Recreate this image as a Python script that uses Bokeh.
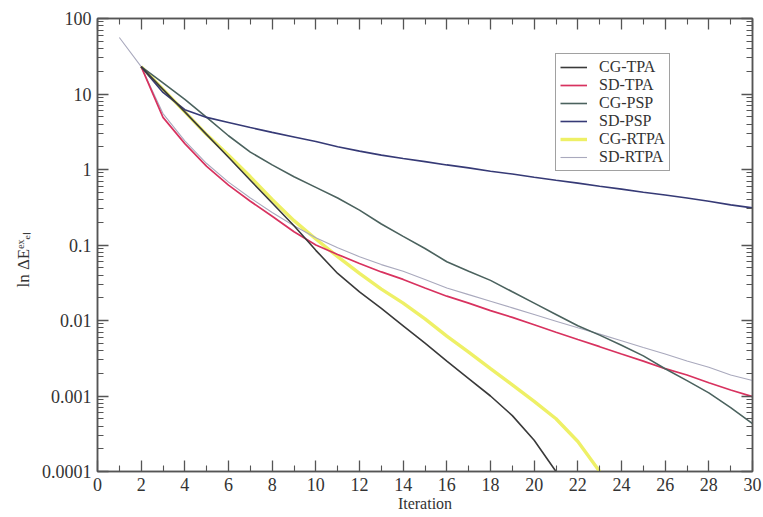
import math
from bokeh.plotting import figure
from bokeh.models import (Range1d, FixedTicker, LinearAxis, LogAxis, Legend, LegendItem,
                          CustomJSTickFormatter)
from bokeh.embed import file_html
from bokeh.resources import INLINE

# ---------------- data ----------------
it2 = list(range(2, 31))
it1 = list(range(1, 31))

cg_tpa_x = list(range(2, 22))
cg_tpa = [23, 11.5, 5.8, 2.9, 1.45, 0.72, 0.36, 0.18, 0.085, 0.042, 0.024, 0.0145, 0.0085,
          0.005, 0.0029, 0.0017, 0.001, 0.00055, 0.00026, 0.0001]

sd_tpa = [23, 4.9, 2.2, 1.1, 0.62, 0.38, 0.24, 0.15, 0.1, 0.075, 0.057, 0.044, 0.035, 0.027,
          0.021, 0.017, 0.0135, 0.011, 0.0088, 0.007, 0.0056, 0.0045, 0.0036, 0.0029, 0.0023,
          0.0019, 0.0015, 0.0012, 0.00098]

cg_psp = [23, 14, 8.5, 4.9, 2.8, 1.7, 1.15, 0.8, 0.58, 0.42, 0.29, 0.19, 0.13, 0.09, 0.06,
          0.045, 0.034, 0.024, 0.017, 0.012, 0.0085, 0.0064, 0.0047, 0.0034, 0.0023, 0.0016,
          0.0011, 0.0007, 0.00043]

sd_psp = [23, 10.5, 6.2, 4.9, 4.2, 3.6, 3.1, 2.7, 2.35, 2.0, 1.75, 1.55, 1.4, 1.27, 1.15,
          1.05, 0.95, 0.87, 0.79, 0.72, 0.66, 0.6, 0.55, 0.5, 0.46, 0.42, 0.38, 0.34, 0.31]

cg_rtpa_x = list(range(2, 24))
cg_rtpa = [23, 11.5, 5.8, 2.9, 1.55, 0.8, 0.4, 0.21, 0.12, 0.07, 0.042, 0.026, 0.017, 0.0105,
           0.0062, 0.0038, 0.0023, 0.0014, 0.00085, 0.0005, 0.00025, 0.0001]

sd_rtpa = [56, 23, 5.5, 2.4, 1.2, 0.68, 0.42, 0.27, 0.18, 0.125, 0.092, 0.07, 0.055, 0.045,
           0.035, 0.027, 0.022, 0.018, 0.0147, 0.012, 0.0098, 0.008, 0.0066, 0.0054, 0.0044,
           0.0036, 0.0029, 0.0024, 0.0019, 0.0016]

x_ticks = list(range(0, 31, 2))
x_minor = list(range(1, 30, 2))
y_ticks = [1e-4, 1e-3, 1e-2, 1e-1, 1, 10, 100]
y_minor = [m * 10.0 ** k for k in range(-4, 2) for m in range(2, 10)]

# ---------------- figure ----------------
W, H = 763, 517
L, R, T, B = 97, 11, 18, 46
SERIF = "Liberation Serif"
TXT = "#333333"
AX = "#555555"

p = figure(width=W, height=H, output_backend="svg", toolbar_location=None,
           y_axis_type="log", x_range=Range1d(0, 30), y_range=Range1d(1e-4, 100),
           min_border_left=L, min_border_right=R, min_border_top=T, min_border_bottom=B)
p.grid.visible = False
p.outline_line_color = AX
p.outline_line_width = 1.5
p.background_fill_color = "white"
p.border_fill_color = "white"

fmt = CustomJSTickFormatter(code="""
if (tick >= 1) return tick.toFixed(0);
const d = Math.round(-Math.log10(tick));
return tick.toFixed(d);
""")
blank = CustomJSTickFormatter(code="return '';")

def style_axis(ax):
    ax.axis_line_color = AX
    ax.axis_line_width = 1.5
    ax.major_tick_line_color = AX
    ax.minor_tick_line_color = AX
    ax.major_tick_line_width = 1.3
    ax.minor_tick_line_width = 1.1
    ax.major_tick_in = 11
    ax.major_tick_out = 0
    ax.minor_tick_in = 6
    ax.minor_tick_out = 0
    ax.major_label_text_font = SERIF
    ax.major_label_text_font_size = "18px"
    ax.major_label_text_color = TXT

xt = FixedTicker(ticks=x_ticks, minor_ticks=x_minor)
yt = FixedTicker(ticks=y_ticks, minor_ticks=y_minor)

xa = p.xaxis[0]
ya = p.yaxis[0]
xa.ticker = xt
ya.ticker = yt
ya.formatter = fmt
style_axis(xa)
style_axis(ya)
xa.major_label_standoff = 6
ya.major_label_standoff = 6
xa.axis_label = "Iteration"
xa.axis_label_text_font = SERIF
xa.axis_label_text_font_style = "normal"
xa.axis_label_text_font_size = "16px"
xa.axis_label_text_color = TXT
xa.axis_label_standoff = 1
ya.axis_label = "ln ΔEᵉˣₑₗ" + "\u00a0" * 7
ya.axis_label_text_font = SERIF
ya.axis_label_text_font_style = "normal"
ya.axis_label_text_font_size = "17px"
ya.axis_label_text_color = TXT
ya.axis_label_standoff = 6

top = LinearAxis(ticker=xt, formatter=blank)
style_axis(top)
top.major_label_standoff = 0
p.add_layout(top, "above")
right = LogAxis(ticker=yt, formatter=blank)
style_axis(right)
right.major_label_standoff = 0
p.add_layout(right, "right")

# ---------------- lines ----------------
r_cgr = p.line(cg_rtpa_x, cg_rtpa, line_color="#eef066", line_width=3.4)
r_sdr = p.line(it1, sd_rtpa, line_color="#a9a9bd", line_width=1.1)
r_sdt = p.line(it2, sd_tpa, line_color="#d8325f", line_width=1.7)
r_cgp = p.line(it2, cg_psp, line_color="#4b625e", line_width=1.6)
r_sdp = p.line(it2, sd_psp, line_color="#363a76", line_width=1.6)
r_cgt = p.line(cg_tpa_x, cg_tpa, line_color="#3a3a3a", line_width=1.6)

legend = Legend(items=[
    LegendItem(label="CG-TPA", renderers=[r_cgt]),
    LegendItem(label="SD-TPA", renderers=[r_sdt]),
    LegendItem(label="CG-PSP", renderers=[r_cgp]),
    LegendItem(label="SD-PSP", renderers=[r_sdp]),
    LegendItem(label="CG-RTPA", renderers=[r_cgr]),
    LegendItem(label="SD-RTPA", renderers=[r_sdr]),
], location=(458, 300))
legend.label_text_font = SERIF
legend.label_text_font_size = "16px"
legend.label_text_color = TXT
legend.label_height = 18
legend.glyph_height = 18
legend.glyph_width = 27
legend.label_standoff = 12
legend.spacing = 0
legend.padding = 4
legend.margin = 0
legend.border_line_color = "#444444"
legend.border_line_width = 1.2
legend.background_fill_alpha = 1.0
p.add_layout(legend)

open("out.html", "w").write(file_html(p, INLINE))
